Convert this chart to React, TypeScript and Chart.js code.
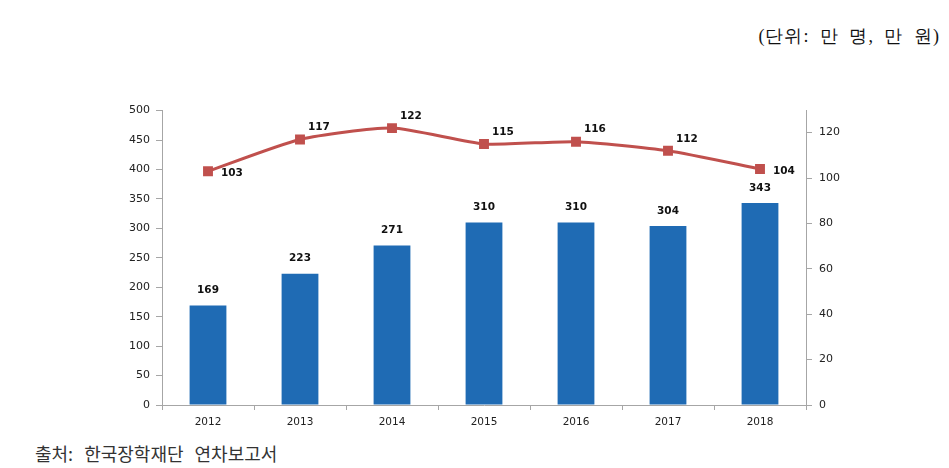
import React, { useEffect, useRef } from "react";
import { Chart, registerables } from "chart.js";

Chart.register(...registerables);

const years = ["2012", "2013", "2014", "2015", "2016", "2017", "2018"];
const students = [169, 223, 271, 310, 310, 304, 343];
const amounts = [103, 117, 122, 115, 116, 112, 104];
const leftTicks = [0, 50, 100, 150, 200, 250, 300, 350, 400, 450, 500];
const rightTicks = [0, 20, 40, 60, 80, 100, 120];
const lineLabelPlacement = ["right", "up", "up", "up", "up", "up", "right"];

const unitText = "(단위: 만 명, 만 원)";
const sourceText = "출처: 한국장학재단 연차보고서";

const BAR_COLOR = "#1F6BB4";
const LINE_COLOR = "#C0504D";
const AXIS_COLOR = "#A6A6A6";
const LABEL_FONT = "bold 10.5px 'DejaVu Sans'";

const labelPlugin = {
  id: "valueLabels",
  afterDatasetsDraw(chart: any) {
    const ctx = chart.ctx;
    ctx.save();
    ctx.font = LABEL_FONT;
    ctx.fillStyle = "#111";
    const barMeta = chart.getDatasetMeta(0);
    barMeta.data.forEach((el: any, i: number) => {
      ctx.textAlign = "center";
      ctx.textBaseline = "middle";
      ctx.fillText(String(students[i]), el.x, el.y - 15);
    });
    const lineMeta = chart.getDatasetMeta(1);
    lineMeta.data.forEach((el: any, i: number) => {
      ctx.textAlign = "left";
      ctx.textBaseline = "middle";
      if (lineLabelPlacement[i] === "right") {
        ctx.fillText(String(amounts[i]), el.x + 13, el.y + 2);
      } else {
        ctx.fillText(String(amounts[i]), el.x + 8, el.y - 12);
      }
    });
    ctx.restore();
  },
};

export default function App() {
  const canvasRef = useRef<HTMLCanvasElement | null>(null);

  useEffect(() => {
    document.body.style.margin = "0";
    const canvas = canvasRef.current;
    if (!canvas) return;
    const chart = new Chart(canvas, {
      type: "bar",
      data: {
        labels: years,
        datasets: [
          {
            type: "bar",
            label: "students",
            data: students,
            backgroundColor: BAR_COLOR,
            yAxisID: "y",
            barPercentage: 0.4,
            categoryPercentage: 1,
            order: 2,
          },
          {
            type: "line",
            label: "amount",
            data: amounts,
            borderColor: LINE_COLOR,
            backgroundColor: LINE_COLOR,
            borderWidth: 3,
            pointStyle: "rect",
            pointRadius: 7,
            pointBorderWidth: 0,
            tension: 0.2,
            yAxisID: "y1",
            order: 1,
          } as any,
        ],
      },
      options: {
        animation: false,
        responsive: false,
        maintainAspectRatio: false,
        layout: { padding: { top: 6, left: 0, right: 0, bottom: 0 } },
        plugins: {
          legend: { display: false },
          tooltip: { enabled: false },
        },
        scales: {
          x: {
            offset: true,
            grid: {
              display: true,
              drawOnChartArea: false,
              offset: true,
              tickLength: 5,
              color: AXIS_COLOR,
            },
            border: { display: true, color: AXIS_COLOR, width: 1 },
            ticks: {
              color: "#222",
              font: { family: "DejaVu Sans", size: 10.5 },
              padding: 6,
              maxRotation: 0,
            },
            afterFit(scale: any) {
              scale.height = 35;
            },
          },
          y: {
            position: "left",
            min: 0,
            max: 500,
            afterBuildTicks(scale: any) {
              scale.ticks = leftTicks.map((v) => ({ value: v }));
            },
            grid: {
              display: true,
              drawOnChartArea: false,
              tickLength: 6,
              color: AXIS_COLOR,
            },
            border: { display: true, color: AXIS_COLOR, width: 1 },
            ticks: {
              color: "#222",
              font: { family: "DejaVu Sans", size: 11 },
              padding: 6,
            },
            afterFit(scale: any) {
              scale.width = 62;
            },
          },
          y1: {
            position: "right",
            min: 0,
            max: 129.7,
            afterBuildTicks(scale: any) {
              scale.ticks = rightTicks.map((v) => ({ value: v }));
            },
            grid: {
              display: true,
              drawOnChartArea: false,
              tickLength: 6,
              color: AXIS_COLOR,
            },
            border: { display: true, color: AXIS_COLOR, width: 1 },
            ticks: {
              color: "#222",
              font: { family: "DejaVu Sans", size: 11 },
              padding: 7,
            },
            afterFit(scale: any) {
              scale.width = 60;
            },
          },
        },
      },
      plugins: [labelPlugin],
    });
    return () => chart.destroy();
  }, []);

  return (
    <div style={{ position: "relative", width: 949, height: 468, background: "#fff", overflow: "hidden" }}>
      <div
        style={{
          position: "absolute",
          right: 9,
          top: 24,
          fontSize: 18,
          letterSpacing: "1px",
          wordSpacing: "5px",
          fontFamily: "serif",
          color: "#111",
          whiteSpace: "nowrap",
        }}
      >
        {unitText}
      </div>
      <canvas
        ref={canvasRef}
        width={766}
        height={343}
        style={{ position: "absolute", left: 100, top: 97, width: 766, height: 343 }}
      />
      <div
        style={{
          position: "absolute",
          left: 35,
          top: 440,
          fontSize: 18,
          wordSpacing: "7px",
          fontFamily: "'Noto Sans CJK KR', sans-serif",
          color: "#333",
          whiteSpace: "nowrap",
        }}
      >
        {sourceText}
      </div>
    </div>
  );
}
